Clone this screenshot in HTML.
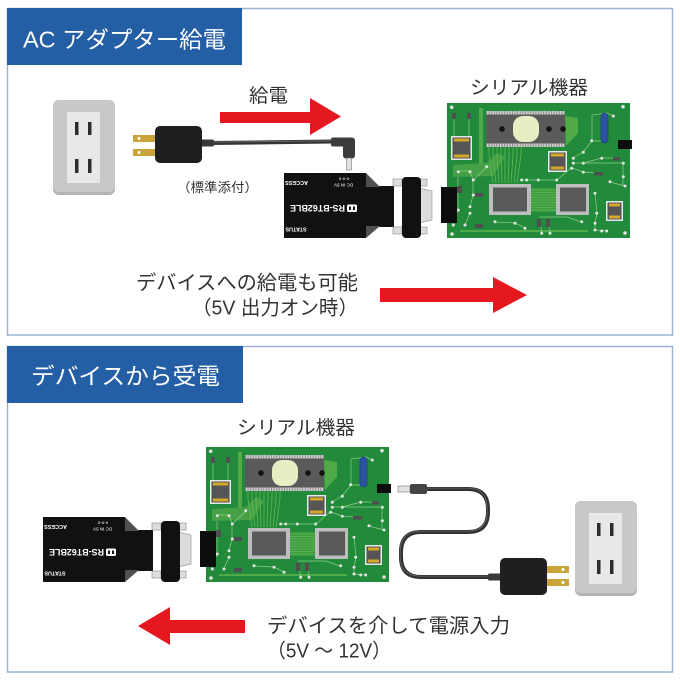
<!DOCTYPE html>
<html><head><meta charset="utf-8"><style>
html,body{margin:0;padding:0;background:#fff;}
svg{display:block;}
.t{font-family:"Liberation Sans","Noto Sans CJK JP",sans-serif;}
</style></head><body>
<svg width="680" height="680" viewBox="0 0 680 680" xmlns="http://www.w3.org/2000/svg">
<rect width="680" height="680" fill="#fff"/>
<!-- frames -->
<rect x="7.5" y="8.5" width="665" height="326.5" fill="#fff" stroke="#9ab3d6" stroke-width="1.5"/>
<rect x="7" y="8" width="235" height="57" fill="#245ea4"/>
<text class="t" x="23" y="47.5" font-size="23" fill="#fff" textLength="203" lengthAdjust="spacingAndGlyphs">AC アダプター給電</text>
<rect x="7.5" y="346.5" width="665" height="325.5" fill="#fff" stroke="#9ab3d6" stroke-width="1.5"/>
<rect x="7" y="346" width="236" height="57" fill="#245ea4"/>
<text class="t" x="31" y="384" font-size="23" fill="#fff" textLength="189" lengthAdjust="spacingAndGlyphs">デバイスから受電</text>

<!-- texts -->
<text class="t" x="249" y="102" font-size="19" fill="#333" textLength="39" lengthAdjust="spacingAndGlyphs">給電</text>
<text class="t" x="470" y="94" font-size="19" fill="#333" textLength="118" lengthAdjust="spacingAndGlyphs">シリアル機器</text>
<text class="t" x="177" y="192" font-size="13" fill="#333" textLength="81" lengthAdjust="spacingAndGlyphs">（標準添付）</text>
<text class="t" x="136" y="289.5" font-size="20" fill="#333" textLength="222" lengthAdjust="spacingAndGlyphs">デバイスへの給電も可能</text>
<text class="t" x="358" y="314.5" font-size="20" fill="#333" text-anchor="end" textLength="166" lengthAdjust="spacingAndGlyphs">（5V 出力オン時）</text>
<text class="t" x="237" y="434" font-size="19" fill="#333" textLength="118" lengthAdjust="spacingAndGlyphs">シリアル機器</text>
<text class="t" x="267" y="632.5" font-size="20" fill="#333" textLength="243" lengthAdjust="spacingAndGlyphs">デバイスを介して電源入力</text>
<text class="t" x="267" y="657.5" font-size="20" fill="#333" textLength="124" lengthAdjust="spacingAndGlyphs">（5V ～ 12V）</text>

<!-- arrows -->
<polygon points="220,112 310,112 310,98 341,116.5 310,135 310,123 220,123" fill="#e5171f"/>
<polygon points="380,288 493,288 493,277 527,295 493,313 493,302 380,302" fill="#e5171f"/>
<polygon points="245,620 170,620 170,607 138,626 170,645 170,633 245,633" fill="#e5171f"/>

<!-- outlet + adapter top -->
<g id="outlet">
<rect x="53" y="100" width="62" height="95" rx="6" fill="#b4b4b4"/>
<rect x="53" y="100" width="62" height="92" rx="6" fill="#c8c8c8"/>
<rect x="67" y="112" width="33" height="71" fill="#e8e8e8"/>
<rect x="75" y="122" width="3.5" height="13" fill="#2d2d2d"/>
<rect x="88" y="122" width="3.5" height="13" fill="#2d2d2d"/>
<rect x="75" y="159" width="3.5" height="14" fill="#2d2d2d"/>
<rect x="88" y="159" width="3.5" height="14" fill="#2d2d2d"/>
</g>
<g transform="translate(522,401)">
<rect x="53" y="100" width="62" height="95" rx="6" fill="#b4b4b4"/>
<rect x="53" y="100" width="62" height="92" rx="6" fill="#c8c8c8"/>
<rect x="67" y="112" width="33" height="71" fill="#e8e8e8"/>
<rect x="75" y="122" width="3.5" height="13" fill="#2d2d2d"/>
<rect x="88" y="122" width="3.5" height="13" fill="#2d2d2d"/>
<rect x="75" y="159" width="3.5" height="14" fill="#2d2d2d"/>
<rect x="88" y="159" width="3.5" height="14" fill="#2d2d2d"/>
</g>

<!-- top adapter -->
<rect x="133" y="135" width="23" height="7" fill="#c9a43a"/>
<rect x="133" y="149" width="23" height="7" fill="#c9a43a"/>
<circle cx="139" cy="138.5" r="1.5" fill="#fff"/>
<circle cx="139" cy="152.5" r="1.5" fill="#fff"/>
<path d="M210,143 L333,141.5" stroke="#333" stroke-width="4" fill="none"/>
<path d="M210,142.2 L333,140.8" stroke="#6a6a6a" stroke-width="0.8" fill="none"/>
<rect x="200" y="139.5" width="14" height="7" rx="1.5" fill="#3a3a3a"/>
<rect x="155" y="126" width="47" height="37" rx="5" fill="#1f1f1f"/>
<!-- top right-angle plug -->
<rect x="331" y="137.5" width="20" height="9" rx="2" fill="#3c3c3c"/>
<rect x="343" y="137.5" width="12" height="21" rx="3" fill="#3c3c3c"/>
<rect x="346.5" y="158" width="5" height="12" fill="#e2e2e2" stroke="#777" stroke-width="0.6"/>

<!-- bottom cable/adapter -->
<path d="M427,489 L468,489 Q488,489 488,509 L488,512 Q488,532 468,532 L421,532 Q401,532 401,552 L401,557 Q401,577 421,577 L497,577" stroke="#333" stroke-width="4" fill="none"/>
<path d="M427,488.2 L468,488.2 Q487.2,488.2 487.2,509 L487.2,512 Q487.2,531.2 468,531.2 L421,531.2 Q400.2,531.2 400.2,552 L400.2,557 Q400.2,576.2 421,576.2 L497,576.2" stroke="#6a6a6a" stroke-width="0.7" fill="none"/>
<rect x="488" y="573.5" width="14" height="7" rx="1.5" fill="#3a3a3a"/>
<rect x="398" y="486" width="12" height="6" fill="#e2e2e2" stroke="#777" stroke-width="0.6"/>
<rect x="410" y="484" width="17" height="10" rx="2" fill="#444"/>
<rect x="546" y="566" width="23" height="7" fill="#c9a43a"/>
<rect x="546" y="579" width="23" height="7" fill="#c9a43a"/>
<circle cx="563" cy="569.5" r="1.5" fill="#fff"/>
<circle cx="563" cy="582.5" r="1.5" fill="#fff"/>
<rect x="500" y="558" width="47" height="37" rx="5" fill="#1f1f1f"/>

<!-- device + pcb group (top) -->
<g id="unit">
 <!-- device -->
 <rect x="284" y="173" width="82" height="65" fill="#111"/>
 <rect x="365" y="186" width="29" height="41" fill="#111"/>
 <polygon points="366,173 380,187 366,187" fill="#505050"/>
 <polygon points="366,238 380,226 366,226" fill="#505050"/>
 <rect x="393" y="179" width="9" height="7" fill="#ddd" stroke="#888" stroke-width="0.6"/>
 <rect x="393" y="227" width="9" height="7" fill="#ddd" stroke="#888" stroke-width="0.6"/>
 <rect x="420" y="179" width="7" height="7" fill="#ddd" stroke="#888" stroke-width="0.6"/>
 <rect x="420" y="227" width="7" height="7" fill="#ddd" stroke="#888" stroke-width="0.6"/>
 <polygon points="419,188 432,191 432,220 419,223" fill="#dcdcdc" stroke="#999" stroke-width="0.7"/>
 <rect x="402" y="177" width="19" height="61" rx="4" fill="#111"/>
 <text class="t" x="296.5" y="185" font-size="5.5" font-weight="bold" fill="#fff" text-anchor="middle" transform="rotate(180 296.5 183)">ACCESS</text>
 <text class="t" x="343.5" y="186.5" font-size="4.5" fill="#fff" text-anchor="middle" transform="rotate(180 343.5 185)">DC IN 5V</text>
 <text class="t" x="344" y="180.5" font-size="4.5" fill="#fff" text-anchor="middle" transform="rotate(180 344 179)">o-o-o</text>
 <text class="t" x="317.5" y="211.2" font-size="9" font-weight="bold" fill="#fff" text-anchor="middle" textLength="55" lengthAdjust="spacingAndGlyphs" transform="rotate(180 317.5 208)">RS-BT62BLE</text>
 <rect x="347" y="204.5" width="10" height="7.5" rx="1.5" fill="#fff"/>
 <rect x="349" y="206.5" width="2" height="3.5" fill="#111"/>
 <rect x="353" y="206.5" width="2" height="3.5" fill="#111"/>
 <text class="t" x="296" y="231.5" font-size="5.5" font-weight="bold" fill="#fff" text-anchor="middle" transform="rotate(180 296 229.5)">STATUS</text>

 <!-- pcb -->
 <g transform="translate(447,103)">
  <rect x="0" y="0" width="183" height="135" fill="#228a3b"/>
  <polygon points="118,13 131,15 131,30 119,43" fill="#50aa48"/>
  <rect x="32" y="5" width="4" height="60" fill="#50aa48"/>
  <polygon points="6,62 40,60 50,50 58,54 46,73 6,74" fill="#46a146"/>
  <rect x="84" y="85" width="26" height="24" fill="#3e9a43"/>
  <rect x="13" y="127" width="128" height="2" fill="#50aa48"/>
  <g stroke="#62b84f" stroke-width="0.8" fill="none">
   <polyline points="42,44 42,52 46,80"/><polyline points="46,44 46,52 49,80"/>
   <polyline points="50,44 50,52 52,80"/><polyline points="54,44 54,52 55,80"/>
   <polyline points="58,44 58,52 58,80"/><polyline points="62,44 62,52 61,80"/>
   <polyline points="66,44 66,52 64,80"/><polyline points="70,44 70,52 67,80"/>
   <polyline points="74,44 74,52 70,80"/>
   <line x1="84" y1="87" x2="109" y2="87"/><line x1="84" y1="89.5" x2="109" y2="89.5"/>
   <line x1="84" y1="92" x2="109" y2="92"/><line x1="84" y1="94.5" x2="109" y2="94.5"/>
   <line x1="84" y1="97" x2="109" y2="97"/><line x1="84" y1="99.5" x2="109" y2="99.5"/>
   <line x1="84" y1="102" x2="109" y2="102"/><line x1="84" y1="104.5" x2="109" y2="104.5"/>
   <line x1="84" y1="107" x2="109" y2="107"/>
  </g>
  <g stroke="#8fd07f" stroke-width="0.7" fill="none">
   <polyline points="7,16 7,33"/><polyline points="22,16 22,33"/>
   <polyline points="11,68 23,68 26,77 26,92 23,104"/>
   <polyline points="11,74 11,107 6,122"/>
   <polyline points="23,110 18,122"/>
   <polyline points="75,77 110,77"/>
   <polyline points="126,55 136,49 145,38 156,38"/>
   <polyline points="145,38 145,12 160,10 166,13"/>
   <polyline points="126,60 176,60 176,74 176,83"/>
   <polyline points="125,65 136,69 147,70"/>
   <polyline points="136,60 155,55 166,55"/>
   <polyline points="163,79 178,83"/>
   <polyline points="148,90 150,110 148,120 148,127 160,128"/>
   <polyline points="48,119 68,120 78,125"/>
   <polyline points="92,116 95,130"/><polyline points="101,116 103,130"/>
   <polyline points="110,77 124,65"/>
   <polyline points="134,119 120,114 92,114"/>
   <polyline points="26,92 36,92"/>
   <polyline points="40,64 26,77"/>
  </g>
  <g fill="#e2e2e2">
   <circle cx="4.7" cy="4.3" r="1.8"/><circle cx="176" cy="3.7" r="1.8"/>
   <circle cx="5" cy="131" r="1.8"/><circle cx="178" cy="130" r="1.8"/>
   <circle cx="11.3" cy="68.7" r="1.5"/><circle cx="23" cy="68.7" r="1.5"/>
   <circle cx="26.3" cy="77" r="1.5"/><circle cx="11.3" cy="107" r="1.5"/>
   <circle cx="23" cy="103.7" r="1.5"/><circle cx="23" cy="110.3" r="1.5"/>
   <circle cx="18" cy="122" r="1.5"/><circle cx="6.3" cy="122" r="1.5"/>
   <circle cx="26.3" cy="92" r="1.5"/><circle cx="74.7" cy="77" r="1.5"/>
   <circle cx="79.7" cy="77" r="1.5"/><circle cx="91.3" cy="77" r="1.5"/>
   <circle cx="109.7" cy="77" r="1.5"/><circle cx="126.3" cy="55.3" r="1.5"/>
   <circle cx="136.3" cy="49.3" r="1.5"/><circle cx="126.3" cy="60.3" r="1.5"/>
   <circle cx="136.3" cy="60.3" r="1.5"/><circle cx="144.7" cy="37.7" r="1.5"/>
   <circle cx="166.3" cy="13" r="1.5"/><circle cx="154.7" cy="55.3" r="1.5"/>
   <circle cx="176.3" cy="60.3" r="1.5"/><circle cx="176.3" cy="73.7" r="1.5"/>
   <circle cx="178" cy="83" r="1.5"/><circle cx="124.7" cy="65.3" r="1.5"/>
   <circle cx="136.3" cy="69.3" r="1.5"/><circle cx="163" cy="78.7" r="1.5"/>
   <circle cx="148" cy="90.3" r="1.5"/><circle cx="149.7" cy="110.3" r="1.5"/>
   <circle cx="148" cy="120.3" r="1.5"/><circle cx="148" cy="127" r="1.5"/>
   <circle cx="154.7" cy="128" r="1.5"/><circle cx="159.7" cy="128" r="1.5"/>
   <circle cx="48" cy="118.7" r="1.5"/><circle cx="68" cy="120.3" r="1.5"/>
   <circle cx="78" cy="125.3" r="1.5"/><circle cx="94.7" cy="130.3" r="1.5"/>
   <circle cx="103" cy="130.3" r="1.5"/><circle cx="134.7" cy="118.7" r="1.5"/>
   <circle cx="39.7" cy="63.7" r="1.5"/>
  </g>
  <!-- EPROM -->
  <rect x="39" y="8" width="79" height="36" fill="#d0d0d0"/>
  <line x1="39" y1="9.7" x2="118" y2="9.7" stroke="#8a8a8a" stroke-width="3.4" stroke-dasharray="1 1.6"/>
  <line x1="39" y1="42.3" x2="118" y2="42.3" stroke="#8a8a8a" stroke-width="3.4" stroke-dasharray="1 1.6"/>
  <rect x="39" y="11.5" width="79" height="29" fill="#5a5a5a"/>
  <rect x="66" y="13" width="26" height="26" rx="10" fill="#e6efc4"/>
  <circle cx="55" cy="26" r="2.8" fill="#111"/>
  <circle cx="102" cy="26" r="2.8" fill="#111"/>
  <circle cx="116" cy="26" r="2.8" fill="#111"/>
  <!-- crystal -->
  <rect x="154" y="10" width="7" height="30" rx="3.5" fill="#2c52a0" stroke="#1b3a7a" stroke-width="0.6"/>
  <!-- QFPs -->
  <rect x="42" y="81" width="42" height="31" fill="#bdbdbd"/>
  <rect x="46" y="84.5" width="34" height="24" fill="#5a5a5a"/>
  <rect x="109" y="81" width="33" height="31" fill="#bdbdbd"/>
  <rect x="113" y="84.5" width="26" height="24" fill="#5a5a5a"/>
  <!-- gold chips -->
  <rect x="4" y="33" width="21" height="24" fill="#e8e8e8"/>
  <rect x="5.5" y="34.5" width="18" height="21" fill="#555"/>
  <rect x="7" y="35.5" width="15" height="3" fill="#d4a82a"/>
  <rect x="7" y="51.5" width="15" height="3" fill="#d4a82a"/>
  <rect x="101" y="48" width="19" height="21" fill="#e8e8e8"/>
  <rect x="102.5" y="49.5" width="16" height="18" fill="#555"/>
  <rect x="104" y="50.5" width="13" height="3" fill="#d4a82a"/>
  <rect x="104" y="63.5" width="13" height="3" fill="#d4a82a"/>
  <rect x="159" y="98" width="17" height="20" fill="#e8e8e8"/>
  <rect x="160.5" y="99.5" width="14" height="17" fill="#555"/>
  <rect x="162" y="100.5" width="11" height="3" fill="#d4a82a"/>
  <rect x="162" y="112.5" width="11" height="3" fill="#d4a82a"/>
  <!-- small parts -->
  <g fill="#4f4f4f">
   <rect x="5" y="10" width="4" height="6"/><rect x="20" y="10" width="4" height="6"/>
   <rect x="166" y="54" width="7" height="3.5"/><rect x="147" y="69" width="9" height="3.5"/>
   <rect x="28" y="90" width="8" height="4"/><rect x="28" y="121" width="8" height="4"/>
   <rect x="90" y="116" width="4" height="8"/><rect x="99" y="116" width="4" height="8"/>
   <rect x="10" y="83" width="5" height="7"/>
  </g>
  <!-- connectors -->
  <rect x="-6" y="84" width="16" height="36" fill="#0d0d0d"/>
  <rect x="171" y="37" width="14" height="9" fill="#0d0d0d"/>
 </g>
</g>

<!-- device + pcb group (bottom) -->
<g transform="translate(-241,344)">
 <rect x="284" y="173" width="82" height="65" fill="#111"/>
 <rect x="365" y="186" width="29" height="41" fill="#111"/>
 <polygon points="366,173 380,187 366,187" fill="#505050"/>
 <polygon points="366,238 380,226 366,226" fill="#505050"/>
 <rect x="393" y="179" width="9" height="7" fill="#ddd" stroke="#888" stroke-width="0.6"/>
 <rect x="393" y="227" width="9" height="7" fill="#ddd" stroke="#888" stroke-width="0.6"/>
 <rect x="420" y="179" width="7" height="7" fill="#ddd" stroke="#888" stroke-width="0.6"/>
 <rect x="420" y="227" width="7" height="7" fill="#ddd" stroke="#888" stroke-width="0.6"/>
 <polygon points="419,188 432,191 432,220 419,223" fill="#dcdcdc" stroke="#999" stroke-width="0.7"/>
 <rect x="402" y="177" width="19" height="61" rx="4" fill="#111"/>
 <text class="t" x="296.5" y="185" font-size="5.5" font-weight="bold" fill="#fff" text-anchor="middle" transform="rotate(180 296.5 183)">ACCESS</text>
 <text class="t" x="343.5" y="186.5" font-size="4.5" fill="#fff" text-anchor="middle" transform="rotate(180 343.5 185)">DC IN 5V</text>
 <text class="t" x="344" y="180.5" font-size="4.5" fill="#fff" text-anchor="middle" transform="rotate(180 344 179)">o-o-o</text>
 <text class="t" x="317.5" y="211.2" font-size="9" font-weight="bold" fill="#fff" text-anchor="middle" textLength="55" lengthAdjust="spacingAndGlyphs" transform="rotate(180 317.5 208)">RS-BT62BLE</text>
 <rect x="347" y="204.5" width="10" height="7.5" rx="1.5" fill="#fff"/>
 <rect x="349" y="206.5" width="2" height="3.5" fill="#111"/>
 <rect x="353" y="206.5" width="2" height="3.5" fill="#111"/>
 <text class="t" x="296" y="231.5" font-size="5.5" font-weight="bold" fill="#fff" text-anchor="middle" transform="rotate(180 296 229.5)">STATUS</text>

 <g transform="translate(447,103)">
  <rect x="0" y="0" width="183" height="135" fill="#228a3b"/>
  <polygon points="118,13 131,15 131,30 119,43" fill="#50aa48"/>
  <rect x="32" y="5" width="4" height="60" fill="#50aa48"/>
  <polygon points="6,62 40,60 50,50 58,54 46,73 6,74" fill="#46a146"/>
  <rect x="84" y="85" width="26" height="24" fill="#3e9a43"/>
  <rect x="13" y="127" width="128" height="2" fill="#50aa48"/>
  <g stroke="#62b84f" stroke-width="0.8" fill="none">
   <polyline points="42,44 42,52 46,80"/><polyline points="46,44 46,52 49,80"/>
   <polyline points="50,44 50,52 52,80"/><polyline points="54,44 54,52 55,80"/>
   <polyline points="58,44 58,52 58,80"/><polyline points="62,44 62,52 61,80"/>
   <polyline points="66,44 66,52 64,80"/><polyline points="70,44 70,52 67,80"/>
   <polyline points="74,44 74,52 70,80"/>
   <line x1="84" y1="87" x2="109" y2="87"/><line x1="84" y1="89.5" x2="109" y2="89.5"/>
   <line x1="84" y1="92" x2="109" y2="92"/><line x1="84" y1="94.5" x2="109" y2="94.5"/>
   <line x1="84" y1="97" x2="109" y2="97"/><line x1="84" y1="99.5" x2="109" y2="99.5"/>
   <line x1="84" y1="102" x2="109" y2="102"/><line x1="84" y1="104.5" x2="109" y2="104.5"/>
   <line x1="84" y1="107" x2="109" y2="107"/>
  </g>
  <g stroke="#8fd07f" stroke-width="0.7" fill="none">
   <polyline points="7,16 7,33"/><polyline points="22,16 22,33"/>
   <polyline points="11,68 23,68 26,77 26,92 23,104"/>
   <polyline points="11,74 11,107 6,122"/>
   <polyline points="23,110 18,122"/>
   <polyline points="75,77 110,77"/>
   <polyline points="126,55 136,49 145,38 156,38"/>
   <polyline points="145,38 145,12 160,10 166,13"/>
   <polyline points="126,60 176,60 176,74 176,83"/>
   <polyline points="125,65 136,69 147,70"/>
   <polyline points="136,60 155,55 166,55"/>
   <polyline points="163,79 178,83"/>
   <polyline points="148,90 150,110 148,120 148,127 160,128"/>
   <polyline points="48,119 68,120 78,125"/>
   <polyline points="92,116 95,130"/><polyline points="101,116 103,130"/>
   <polyline points="110,77 124,65"/>
   <polyline points="134,119 120,114 92,114"/>
   <polyline points="26,92 36,92"/>
   <polyline points="40,64 26,77"/>
  </g>
  <g fill="#e2e2e2">
   <circle cx="4.7" cy="4.3" r="1.8"/><circle cx="176" cy="3.7" r="1.8"/>
   <circle cx="5" cy="131" r="1.8"/><circle cx="178" cy="130" r="1.8"/>
   <circle cx="11.3" cy="68.7" r="1.5"/><circle cx="23" cy="68.7" r="1.5"/>
   <circle cx="26.3" cy="77" r="1.5"/><circle cx="11.3" cy="107" r="1.5"/>
   <circle cx="23" cy="103.7" r="1.5"/><circle cx="23" cy="110.3" r="1.5"/>
   <circle cx="18" cy="122" r="1.5"/><circle cx="6.3" cy="122" r="1.5"/>
   <circle cx="26.3" cy="92" r="1.5"/><circle cx="74.7" cy="77" r="1.5"/>
   <circle cx="79.7" cy="77" r="1.5"/><circle cx="91.3" cy="77" r="1.5"/>
   <circle cx="109.7" cy="77" r="1.5"/><circle cx="126.3" cy="55.3" r="1.5"/>
   <circle cx="136.3" cy="49.3" r="1.5"/><circle cx="126.3" cy="60.3" r="1.5"/>
   <circle cx="136.3" cy="60.3" r="1.5"/><circle cx="144.7" cy="37.7" r="1.5"/>
   <circle cx="166.3" cy="13" r="1.5"/><circle cx="154.7" cy="55.3" r="1.5"/>
   <circle cx="176.3" cy="60.3" r="1.5"/><circle cx="176.3" cy="73.7" r="1.5"/>
   <circle cx="178" cy="83" r="1.5"/><circle cx="124.7" cy="65.3" r="1.5"/>
   <circle cx="136.3" cy="69.3" r="1.5"/><circle cx="163" cy="78.7" r="1.5"/>
   <circle cx="148" cy="90.3" r="1.5"/><circle cx="149.7" cy="110.3" r="1.5"/>
   <circle cx="148" cy="120.3" r="1.5"/><circle cx="148" cy="127" r="1.5"/>
   <circle cx="154.7" cy="128" r="1.5"/><circle cx="159.7" cy="128" r="1.5"/>
   <circle cx="48" cy="118.7" r="1.5"/><circle cx="68" cy="120.3" r="1.5"/>
   <circle cx="78" cy="125.3" r="1.5"/><circle cx="94.7" cy="130.3" r="1.5"/>
   <circle cx="103" cy="130.3" r="1.5"/><circle cx="134.7" cy="118.7" r="1.5"/>
   <circle cx="39.7" cy="63.7" r="1.5"/>
  </g>
  <rect x="39" y="8" width="79" height="36" fill="#d0d0d0"/>
  <line x1="39" y1="9.7" x2="118" y2="9.7" stroke="#8a8a8a" stroke-width="3.4" stroke-dasharray="1 1.6"/>
  <line x1="39" y1="42.3" x2="118" y2="42.3" stroke="#8a8a8a" stroke-width="3.4" stroke-dasharray="1 1.6"/>
  <rect x="39" y="11.5" width="79" height="29" fill="#5a5a5a"/>
  <rect x="66" y="13" width="26" height="26" rx="10" fill="#e6efc4"/>
  <circle cx="55" cy="26" r="2.8" fill="#111"/>
  <circle cx="102" cy="26" r="2.8" fill="#111"/>
  <circle cx="116" cy="26" r="2.8" fill="#111"/>
  <rect x="154" y="10" width="7" height="30" rx="3.5" fill="#2c52a0" stroke="#1b3a7a" stroke-width="0.6"/>
  <rect x="42" y="81" width="42" height="31" fill="#bdbdbd"/>
  <rect x="46" y="84.5" width="34" height="24" fill="#5a5a5a"/>
  <rect x="109" y="81" width="33" height="31" fill="#bdbdbd"/>
  <rect x="113" y="84.5" width="26" height="24" fill="#5a5a5a"/>
  <rect x="4" y="33" width="21" height="24" fill="#e8e8e8"/>
  <rect x="5.5" y="34.5" width="18" height="21" fill="#555"/>
  <rect x="7" y="35.5" width="15" height="3" fill="#d4a82a"/>
  <rect x="7" y="51.5" width="15" height="3" fill="#d4a82a"/>
  <rect x="101" y="48" width="19" height="21" fill="#e8e8e8"/>
  <rect x="102.5" y="49.5" width="16" height="18" fill="#555"/>
  <rect x="104" y="50.5" width="13" height="3" fill="#d4a82a"/>
  <rect x="104" y="63.5" width="13" height="3" fill="#d4a82a"/>
  <rect x="159" y="98" width="17" height="20" fill="#e8e8e8"/>
  <rect x="160.5" y="99.5" width="14" height="17" fill="#555"/>
  <rect x="162" y="100.5" width="11" height="3" fill="#d4a82a"/>
  <rect x="162" y="112.5" width="11" height="3" fill="#d4a82a"/>
  <g fill="#4f4f4f">
   <rect x="5" y="10" width="4" height="6"/><rect x="20" y="10" width="4" height="6"/>
   <rect x="166" y="54" width="7" height="3.5"/><rect x="147" y="69" width="9" height="3.5"/>
   <rect x="28" y="90" width="8" height="4"/><rect x="28" y="121" width="8" height="4"/>
   <rect x="90" y="116" width="4" height="8"/><rect x="99" y="116" width="4" height="8"/>
   <rect x="10" y="83" width="5" height="7"/>
  </g>
  <rect x="-6" y="84" width="16" height="36" fill="#0d0d0d"/>
  <rect x="171" y="37" width="14" height="9" fill="#0d0d0d"/>
 </g>
</g>
</svg>
</body></html>
